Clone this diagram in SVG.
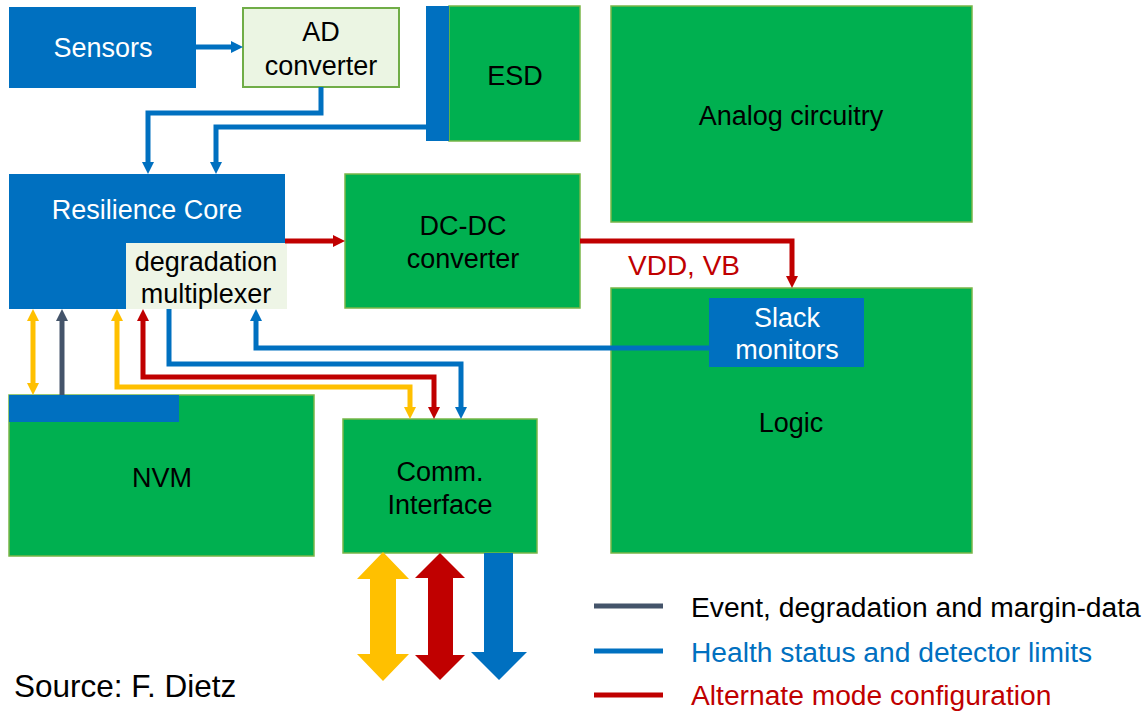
<svg xmlns="http://www.w3.org/2000/svg" width="1146" height="712" viewBox="0 0 1146 712">
<defs>
<style>
text{font-family:"Liberation Sans",Arial,sans-serif;font-size:27px;text-anchor:middle;fill:#000}
.w{fill:#fff}
.blue{fill:#0070C0}
.green{fill:#00B050;stroke:#7AB648;stroke-width:1.5}
.light{fill:#EBF5E3;stroke:#70AD47;stroke-width:2}
.mux{fill:#EEF5E6}
.c{fill:none;stroke-width:5;stroke-linejoin:miter}
.cb{stroke:#0070C0}.cr{stroke:#C00000}.cy{stroke:#FFC000}.cg{stroke:#44546A}
.leg{text-anchor:start;font-size:28.2px}
</style>
<marker id="ab" markerUnits="userSpaceOnUse" markerWidth="12" markerHeight="12" refX="2" refY="6" orient="auto-start-reverse"><path d="M0,0 L12,6 L0,12 z" fill="#0070C0"/></marker>
<marker id="ar" markerUnits="userSpaceOnUse" markerWidth="12" markerHeight="12" refX="2" refY="6" orient="auto-start-reverse"><path d="M0,0 L12,6 L0,12 z" fill="#C00000"/></marker>
<marker id="ay" markerUnits="userSpaceOnUse" markerWidth="12" markerHeight="12" refX="2" refY="6" orient="auto-start-reverse"><path d="M0,0 L12,6 L0,12 z" fill="#FFC000"/></marker>
<marker id="ag" markerUnits="userSpaceOnUse" markerWidth="12" markerHeight="12" refX="2" refY="6" orient="auto-start-reverse"><path d="M0,0 L12,6 L0,12 z" fill="#44546A"/></marker>
</defs>
<rect width="1146" height="712" fill="#fff"/>

<g id="sensors"><rect class="blue" x="9" y="7" width="187" height="81"/><text class="w" x="103" y="57">Sensors</text></g>
<g id="ad-converter"><rect class="light" x="243" y="8" width="156" height="79"/><text x="321" y="41">AD</text><text x="321" y="75">converter</text></g>
<g id="esd"><rect class="green" x="449" y="6" width="131" height="135"/><rect class="blue" x="426" y="6" width="23" height="135"/><text x="515" y="85">ESD</text></g>
<g id="analog"><rect class="green" x="611" y="6" width="361" height="216"/><text x="791" y="125">Analog circuitry</text></g>
<g id="resilience-core"><rect class="blue" x="9" y="174" width="276" height="135"/><text class="w" x="147" y="219">Resilience Core</text>
<rect class="mux" x="126" y="243" width="161" height="66"/><text x="206" y="271">degradation</text><text x="206" y="303">multiplexer</text></g>
<g id="dc-dc"><rect class="green" x="345" y="174" width="235" height="134"/><text x="463" y="235">DC-DC</text><text x="463" y="268">converter</text></g>
<g id="logic"><rect class="green" x="611" y="288" width="361" height="265"/><text x="791" y="432">Logic</text></g>
<g id="slack"><rect class="blue" x="709" y="298" width="155" height="69"/><text class="w" x="787" y="327">Slack</text><text class="w" x="787" y="359">monitors</text></g>
<g id="nvm"><rect class="green" x="9" y="395" width="305" height="161"/><rect class="blue" x="9" y="395" width="170" height="27"/><text x="162" y="487">NVM</text></g>
<g id="comm"><rect class="green" x="343" y="419" width="194" height="134"/><text x="440" y="481">Comm.</text><text x="440" y="514">Interface</text></g>

<g id="connectors">
<path class="c cb" d="M196,47 H233" marker-end="url(#ab)"/>
<path class="c cb" d="M321,87 V113 H148 V164" marker-end="url(#ab)"/>
<path class="c cb" d="M426,127 H216 V164" marker-end="url(#ab)"/>
<path class="c cr" d="M285,241 H335" marker-end="url(#ar)"/>
<path class="c cr" d="M580,241 H792 V278" marker-end="url(#ar)"/>
<path class="c cb" d="M709,348 H256 V319" marker-end="url(#ab)"/>
<path class="c cy" d="M33,319 V385" marker-start="url(#ay)" marker-end="url(#ay)"/>
<path class="c cg" d="M62,395 V319" marker-end="url(#ag)"/>
<path class="c cy" d="M117,319 V387 H410 V409" marker-start="url(#ay)" marker-end="url(#ay)"/>
<path class="c cr" d="M143,319 V377 H434 V409" marker-start="url(#ar)" marker-end="url(#ar)"/>
<path class="c cb" d="M169,309 V364 H461 V409" marker-end="url(#ab)"/>
<polygon fill="#FFC000" points="383,552 409,579 396,579 396,654 409,654 383,681 357,654 370,654 370,579 357,579"/>
<polygon fill="#C00000" points="440,553 465,578 453,578 453,655 465,655 440,680 415,655 428,655 428,578 415,578"/>
<polygon fill="#0070C0" points="484,553 513,553 513,652 527,652 499,680 471,652 484,652"/>
</g>
<text x="628" y="275" style="text-anchor:start;fill:#C00000;font-size:28px">VDD, VB</text>

<g id="legend">
<line x1="594" y1="606" x2="663" y2="606" stroke="#44546A" stroke-width="5"/>
<line x1="594" y1="651" x2="663" y2="651" stroke="#0070C0" stroke-width="5"/>
<line x1="594" y1="695" x2="663" y2="695" stroke="#C00000" stroke-width="5"/>
<text class="leg" x="691" y="617">Event, degradation and margin-data</text>
<text class="leg" x="691" y="662" style="fill:#0070C0">Health status and detector limits</text>
<text class="leg" x="691" y="705" style="fill:#C00000">Alternate mode configuration</text>
</g>
<text x="14" y="697" style="text-anchor:start;font-size:31.5px">Source: F. Dietz</text>
</svg>
